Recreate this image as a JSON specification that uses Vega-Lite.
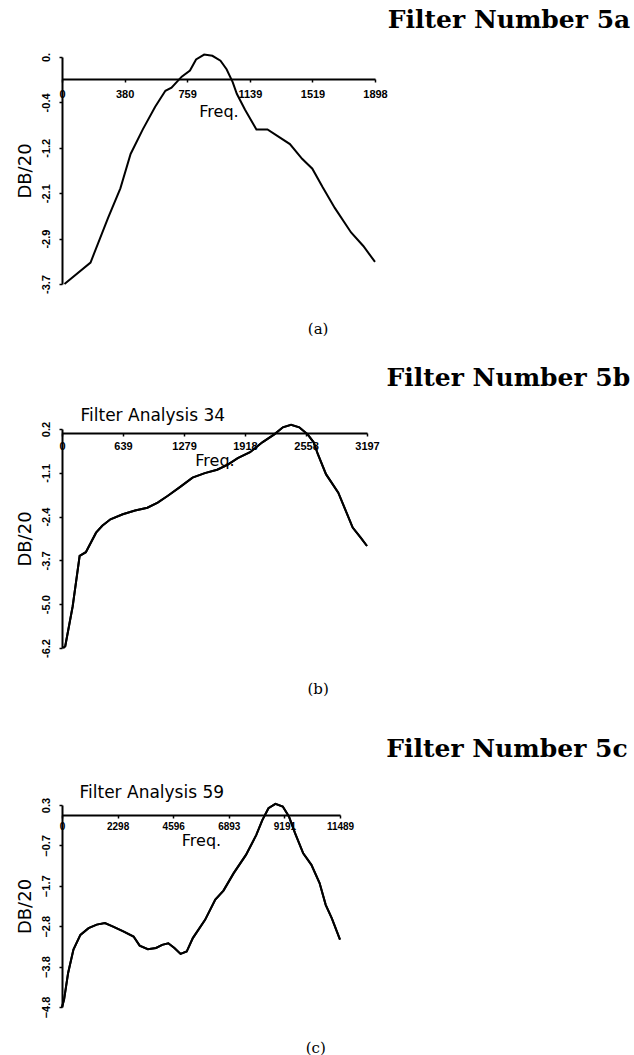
{
  "$schema": "https://vega.github.io/schema/vega-lite/v6.json",
  "background": "white",
  "padding": {"left": 16, "top": 7, "right": 0, "bottom": 0},
  "spacing": 28,
  "config": {
    "view": {"stroke": null},
    "axis": {"grid": false, "domainColor": "black", "tickColor": "black", "labelColor": "black", "titleColor": "black", "domainWidth": 2, "tickWidth": 1.5, "tickSize": 3},
    "title": {"color": "black"}
  },
  "datasets": {
    "a": [
      {"freq": 15, "db": -3.7}, {"freq": 173, "db": -3.35}, {"freq": 280, "db": -2.62}, {"freq": 354, "db": -2.14},
      {"freq": 416, "db": -1.58}, {"freq": 490, "db": -1.18}, {"freq": 565, "db": -0.81}, {"freq": 627, "db": -0.55},
      {"freq": 664, "db": -0.5}, {"freq": 726, "db": -0.32}, {"freq": 776, "db": -0.22}, {"freq": 813, "db": -0.04},
      {"freq": 862, "db": 0.04}, {"freq": 912, "db": 0.02}, {"freq": 961, "db": -0.06}, {"freq": 998, "db": -0.2},
      {"freq": 1035, "db": -0.41}, {"freq": 1060, "db": -0.6}, {"freq": 1110, "db": -0.86}, {"freq": 1179, "db": -1.18},
      {"freq": 1246, "db": -1.18}, {"freq": 1308, "db": -1.29}, {"freq": 1382, "db": -1.42}, {"freq": 1456, "db": -1.66},
      {"freq": 1518, "db": -1.82}, {"freq": 1580, "db": -2.12}, {"freq": 1654, "db": -2.46}, {"freq": 1753, "db": -2.86},
      {"freq": 1827, "db": -3.08}, {"freq": 1898, "db": -3.34}
    ],
    "b": [
      {"freq": 13, "db": -6.2}, {"freq": 34, "db": -6.15}, {"freq": 112, "db": -4.98}, {"freq": 185, "db": -3.51},
      {"freq": 250, "db": -3.4}, {"freq": 357, "db": -2.83}, {"freq": 422, "db": -2.63}, {"freq": 508, "db": -2.44},
      {"freq": 637, "db": -2.29}, {"freq": 766, "db": -2.18}, {"freq": 895, "db": -2.1}, {"freq": 1003, "db": -1.95},
      {"freq": 1110, "db": -1.75}, {"freq": 1239, "db": -1.49}, {"freq": 1368, "db": -1.22}, {"freq": 1497, "db": -1.09},
      {"freq": 1626, "db": -0.99}, {"freq": 1734, "db": -0.85}, {"freq": 1842, "db": -0.65}, {"freq": 1971, "db": -0.48},
      {"freq": 2100, "db": -0.19}, {"freq": 2229, "db": 0.05}, {"freq": 2315, "db": 0.25}, {"freq": 2401, "db": 0.32},
      {"freq": 2487, "db": 0.25}, {"freq": 2573, "db": 0.05}, {"freq": 2638, "db": -0.19}, {"freq": 2681, "db": -0.53},
      {"freq": 2767, "db": -1.12}, {"freq": 2896, "db": -1.66}, {"freq": 3047, "db": -2.68}, {"freq": 3133, "db": -2.98},
      {"freq": 3197, "db": -3.22}
    ],
    "c": [
      {"freq": 0, "db": -4.8}, {"freq": 84, "db": -4.62}, {"freq": 253, "db": -3.94}, {"freq": 473, "db": -3.35},
      {"freq": 760, "db": -2.98}, {"freq": 1098, "db": -2.81}, {"freq": 1436, "db": -2.72}, {"freq": 1774, "db": -2.68},
      {"freq": 2112, "db": -2.77}, {"freq": 2534, "db": -2.89}, {"freq": 2957, "db": -3.02}, {"freq": 3210, "db": -3.25},
      {"freq": 3548, "db": -3.34}, {"freq": 3886, "db": -3.31}, {"freq": 4139, "db": -3.23}, {"freq": 4393, "db": -3.19},
      {"freq": 4646, "db": -3.31}, {"freq": 4900, "db": -3.46}, {"freq": 5153, "db": -3.4}, {"freq": 5407, "db": -3.06},
      {"freq": 5913, "db": -2.6}, {"freq": 6336, "db": -2.09}, {"freq": 6674, "db": -1.86}, {"freq": 7096, "db": -1.42},
      {"freq": 7603, "db": -0.96}, {"freq": 8026, "db": -0.46}, {"freq": 8279, "db": -0.08}, {"freq": 8533, "db": 0.22},
      {"freq": 8820, "db": 0.33}, {"freq": 9124, "db": 0.26}, {"freq": 9378, "db": 0.01}, {"freq": 9631, "db": -0.41},
      {"freq": 9969, "db": -0.92}, {"freq": 10307, "db": -1.21}, {"freq": 10645, "db": -1.67}, {"freq": 10898, "db": -2.22},
      {"freq": 11152, "db": -2.56}, {"freq": 11489, "db": -3.1}
    ]
  },
  "vconcat": [
    {
      "title": {"text": "(a)", "orient": "bottom", "anchor": "middle", "font": "DejaVu Serif", "fontSize": 15, "fontWeight": "normal", "offset": 29, "dx": -5},
      "vconcat": [
        {
          "width": 313,
          "height": 227,
          "title": {"text": "Filter Number 5a", "anchor": "end", "dx": 243, "font": "DejaVu Serif", "fontSize": 25, "fontWeight": "bold", "offset": 18},
          "data": {"name": "a"},
          "mark": {"type": "line", "color": "black", "strokeWidth": 2},
          "encoding": {
            "x": {"field": "freq", "type": "quantitative", "scale": {"domain": [0, 1898], "nice": false, "zero": false},
              "axis": {"orient": "bottom", "offset": -205, "values": [0, 380, 759, 1139, 1519, 1898], "format": "d", "labelFont": "Liberation Sans", "labelFontWeight": "bold", "labelFontSize": 11, "labelPadding": 6, "labelFlush": false, "title": "Freq.", "titleFont": "DejaVu Sans", "titleFontWeight": "normal", "titleFontSize": 16, "titlePadding": 4}},
            "y": {"field": "db", "type": "quantitative", "scale": {"domain": [-3.7, 0], "nice": false, "zero": false},
              "axis": {"values": [0, -0.74, -1.48, -2.22, -2.96, -3.7], "labelExpr": "datum.value > -0.3 ? '0.' : datum.value > -1 ? '-0.4' : datum.value > -1.8 ? '-1.2' : datum.value > -2.6 ? '-2.1' : datum.value > -3.3 ? '-2.9' : '-3.7'", "labelAngle": 270, "labelFont": "Liberation Sans", "labelFontWeight": "bold", "labelFontSize": 11, "labelPadding": 8, "title": "DB/20", "titleFont": "DejaVu Sans", "titleFontWeight": "normal", "titleFontSize": 18, "titlePadding": 6}}
          }
        }
      ]
    },
    {
      "spacing": 39,
      "vconcat": [
        {
          "title": {"text": "(b)", "orient": "bottom", "anchor": "middle", "font": "DejaVu Serif", "fontSize": 15, "fontWeight": "normal", "offset": 25, "dx": -5},
          "vconcat": [
            {
              "width": 305,
              "height": 219,
              "title": {"text": "Filter Number 5b", "anchor": "end", "dx": 251, "font": "DejaVu Serif", "fontSize": 25, "fontWeight": "bold", "offset": 15},
              "data": {"name": "b"},
              "layer": [
                {
                  "mark": {"type": "line", "color": "black", "strokeWidth": 2},
                  "encoding": {
                    "x": {"field": "freq", "type": "quantitative", "scale": {"domain": [0, 3197], "nice": false, "zero": false},
                      "axis": {"orient": "bottom", "offset": -215, "values": [0, 639, 1279, 1918, 2558, 3197], "format": "d", "labelFont": "Liberation Sans", "labelFontWeight": "bold", "labelFontSize": 11, "labelPadding": 4, "labelFlush": false, "title": "Freq.", "titleFont": "DejaVu Sans", "titleFontWeight": "normal", "titleFontSize": 16, "titlePadding": 1}},
                    "y": {"field": "db", "type": "quantitative", "scale": {"domain": [-6.2, 0.2], "nice": false, "zero": false},
                      "axis": {"values": [0.2, -1.08, -2.36, -3.64, -4.92, -6.2], "labelExpr": "datum.value > -0.5 ? '0.2' : datum.value > -1.7 ? '-1.1' : datum.value > -3 ? '-2.4' : datum.value > -4.3 ? '-3.7' : datum.value > -5.5 ? '-5.0' : '-6.2'", "labelAngle": 270, "labelFont": "Liberation Sans", "labelFontWeight": "bold", "labelFontSize": 11, "labelPadding": 8, "title": "DB/20", "titleFont": "DejaVu Sans", "titleFontWeight": "normal", "titleFontSize": 18, "titlePadding": 6}}
                  }
                },
                {
                  "mark": {"type": "line", "color": "black", "strokeWidth": 2},
                  "encoding": {
                    "x": {"field": "freq", "type": "quantitative",
                      "axis": {"orient": "top", "domain": false, "ticks": false, "labels": false, "title": "Filter Analysis 34", "titleAnchor": "start", "titleX": 18, "titleAlign": "left", "titleFont": "DejaVu Sans", "titleFontWeight": "normal", "titleFontSize": 17, "titlePadding": 5}},
                    "y": {"field": "db", "type": "quantitative"}
                  }
                }
              ],
              "resolve": {"axis": {"x": "independent"}}
            }
          ]
        },
        {
          "title": {"text": "(c)", "orient": "bottom", "anchor": "middle", "font": "DejaVu Serif", "fontSize": 15, "fontWeight": "normal", "offset": 23, "dx": -6},
          "vconcat": [
            {
              "width": 278,
              "height": 202,
              "title": {"text": "Filter Number 5c", "anchor": "end", "dx": 274, "font": "DejaVu Serif", "fontSize": 25, "fontWeight": "bold", "offset": 21},
              "data": {"name": "c"},
              "layer": [
                {
                  "mark": {"type": "line", "color": "black", "strokeWidth": 2},
                  "encoding": {
                    "x": {"field": "freq", "type": "quantitative", "scale": {"domain": [0, 11489], "nice": false, "zero": false},
                      "axis": {"orient": "bottom", "offset": -192, "values": [0, 2298, 4596, 6893, 9191, 11489], "format": "d", "labelFont": "Liberation Sans", "labelFontWeight": "bold", "labelFontSize": 10, "labelPadding": 3, "labelFlush": false, "title": "Freq.", "titleFont": "DejaVu Sans", "titleFontWeight": "normal", "titleFontSize": 16, "titlePadding": 1}},
                    "y": {"field": "db", "type": "quantitative", "scale": {"domain": [-4.8, 0.3], "nice": false, "zero": false},
                      "axis": {"values": [0.3, -0.72, -1.74, -2.76, -3.78, -4.8], "format": ".1f", "labelAngle": 270, "labelFont": "Liberation Sans", "labelFontWeight": "bold", "labelFontSize": 11, "labelPadding": 8, "title": "DB/20", "titleFont": "DejaVu Sans", "titleFontWeight": "normal", "titleFontSize": 18, "titlePadding": 6}}
                  }
                },
                {
                  "mark": {"type": "line", "color": "black", "strokeWidth": 2},
                  "encoding": {
                    "x": {"field": "freq", "type": "quantitative",
                      "axis": {"orient": "top", "domain": false, "ticks": false, "labels": false, "title": "Filter Analysis 59", "titleAnchor": "start", "titleX": 17, "titleAlign": "left", "titleFont": "DejaVu Sans", "titleFontWeight": "normal", "titleFontSize": 17, "titlePadding": 4}},
                    "y": {"field": "db", "type": "quantitative"}
                  }
                }
              ],
              "resolve": {"axis": {"x": "independent"}}
            }
          ]
        }
      ]
    }
  ]
}
